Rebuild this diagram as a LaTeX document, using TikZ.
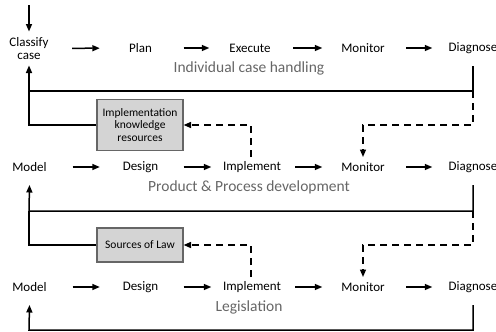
\documentclass[tikz,border=0pt]{standalone}
\usepackage{fontspec}
\setmainfont{Carlito}
\usetikzlibrary{arrows.meta,calc}
\begin{document}
\begin{tikzpicture}[x=1pt,y=-1pt,
  proc/.style={font=\fontsize{13}{13.5}\selectfont, text=black, minimum width=60pt, inner sep=0pt, align=center},
  lbl/.style={font=\fontsize{15.5}{17}\selectfont, text=black!60, inner sep=0pt},
  res/.style={draw=black!60, fill=black!17, line width=1.1pt, font=\fontsize{11.5}{12.5}\selectfont, align=center, inner sep=0pt, text=black},
  tip/.style={-{Triangle[length=7.5pt,width=6pt]}},
  flow/.style={tip, line width=1.5pt, shorten <=13pt, shorten >=10.5pt},
  fb/.style={line width=1.5pt},
  fbarrow/.style={fb, tip},
  dsh/.style={fb, dash pattern=on 7pt off 5pt},
  dsharrow/.style={dsh, tip},
]
\useasboundingbox (0,0) rectangle (496,332);

% Row 1
\node[proc] (cls) at (29,48.5) {Classify\\case};
\node[proc] (pln) at (140.5,48) {Plan};
\node[proc] (exe) at (250,48) {Execute};
\node[proc] (mon1) at (363,48) {Monitor};
\node[proc] (dg1) at (473,48) {Diagnose};
\node[lbl] (l1) at (249,68) {Individual case handling};

% Row 2
\node[proc] (mod2) at (29.5,167) {Model};
\node[proc] (des2) at (140.5,167) {Design};
\node[proc] (imp2) at (252,167) {Implement};
\node[proc] (mon2) at (363,167) {Monitor};
\node[proc] (dg2) at (473,167) {Diagnose};
\node[lbl] (l2) at (249,187) {Product \& Process development};

% Row 3
\node[proc] (mod3) at (29.5,287) {Model};
\node[proc] (des3) at (140.5,287) {Design};
\node[proc] (imp3) at (252,287) {Implement};
\node[proc] (mon3) at (363,287) {Monitor};
\node[proc] (dg3) at (473,287) {Diagnose};
\node[lbl] (l3) at (249,307) {Legislation};

% Resource boxes
\node[res, minimum width=86pt, minimum height=51pt] (res1) at (140,125) {Implementation\\knowledge\\resources};
\node[res, minimum width=86pt, minimum height=34pt] (res2) at (140,245) {Sources of Law};

% Flow arrows
\draw[flow] (cls) -- (pln);
\draw[flow] (pln) -- (exe);
\draw[flow] (exe) -- (mon1);
\draw[flow] (mon1) -- (dg1);
\draw[flow] (mod2) -- (des2);
\draw[flow] (des2) -- (imp2);
\draw[flow] (imp2) -- (mon2);
\draw[flow] (mon2) -- (dg2);
\draw[flow] (mod3) -- (des3);
\draw[flow] (des3) -- (imp3);
\draw[flow] (imp3) -- (mon3);
\draw[flow] (mon3) -- (dg3);

% Entry arrow
\coordinate (start) at (29,5);
\draw[fbarrow] (start) -- ($(cls)+(0,-17)$);

% Feedback row 1
\coordinate (fb1) at (29,91);
\draw[fbarrow] ($(dg1)+(0,18)$) |- (fb1) -- ($(cls)+(0,17)$);
\draw[fb] (res1.west) -| (fb1);
\draw[dsharrow] ($(dg1)+(0,43)$) |- ($(res1.east)+(180,0)$) -| ($(mon2)+(0,-10)$);
\draw[dsharrow] ($(imp2)+(-1,-10)$) |- (res1.east);

% Feedback row 2
\coordinate (fb2) at (29,211);
\draw[fbarrow] ($(dg2)+(0,18)$) |- (fb2) -- ($(mod2)+(0,18)$);
\draw[fb] (res2.west) -| (fb2);
\draw[dsharrow] ($(dg2)+(0,44)$) |- ($(res2.east)+(180,0)$) -| ($(mon3)+(0,-10)$);
\draw[dsharrow] ($(imp3)+(-1,-10)$) |- (res2.east);

% Feedback row 3
\coordinate (fb3) at (29,330);
\draw[fbarrow] ($(dg3)+(0,18)$) |- (fb3) -- ($(mod3)+(0,18)$);
\end{tikzpicture}
\end{document}
